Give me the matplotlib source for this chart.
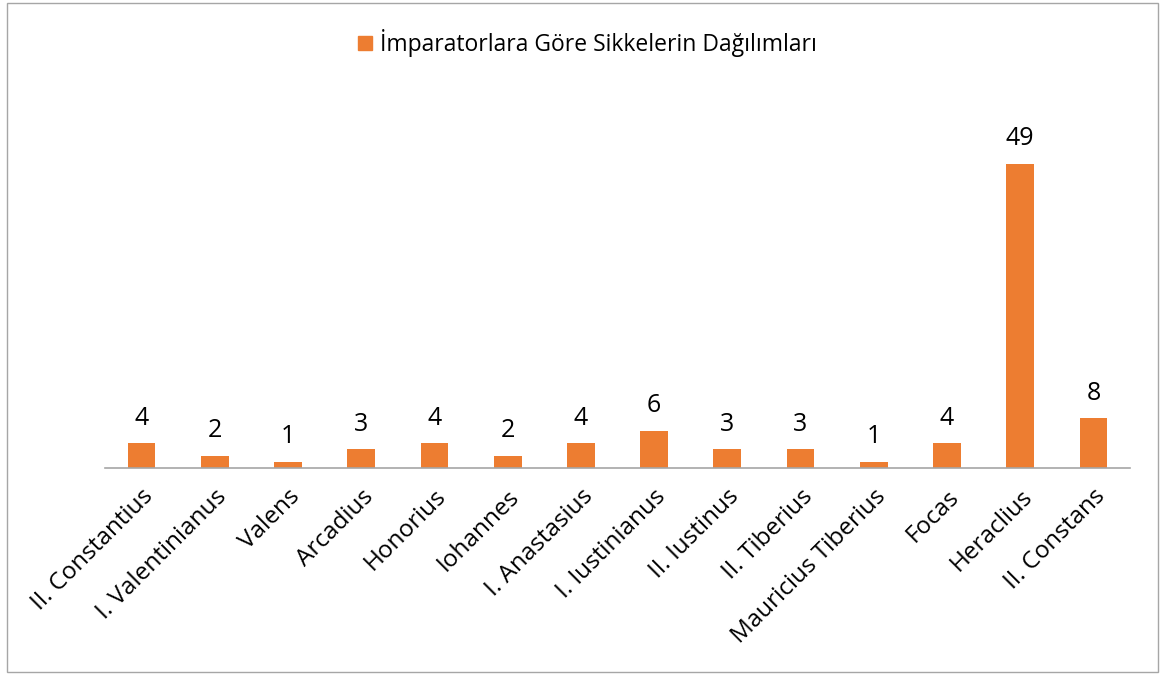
import matplotlib.pyplot as plt
from matplotlib.patches import Rectangle
from matplotlib.lines import Line2D

# data
emperors = ["II. Constantius", "I. Valentinianus", "Valens", "Arcadius", "Honorius",
            "Iohannes", "I. Anastasius", "I. Iustinianus", "II. Iustinus", "II. Tiberius",
            "Mauricius Tiberius", "Focas", "Heraclius", "II. Constans"]
coin_counts = [4, 2, 1, 3, 4, 2, 4, 6, 3, 3, 1, 4, 49, 8]
series_name = "İmparatorlara Göre Sikkelerin Dağılımları"

bar_color = "#ED7D31"
plt.rcParams['font.family'] = ['Open Sans', 'DejaVu Sans']

fig = plt.figure(figsize=(11.65, 6.75), dpi=100)
ax = fig.add_axes([0.0901, 0.3067, 0.8799, 0.5523])

x = range(len(emperors))
bars = ax.bar(x, coin_counts, width=0.38, color=bar_color)
ax.bar_label(bars, labels=[str(v) for v in coin_counts], padding=9, fontsize=18)

ax.set_xlim(-0.5, len(emperors) - 0.5)
ax.set_ylim(0, 60)
ax.set_yticks([])
ax.set_xticks(list(x))
ax.set_xticklabels(emperors, rotation=45, ha='right', rotation_mode='anchor', fontsize=17.5)
ax.tick_params(axis='x', length=0, pad=12)
for side in ['top', 'right', 'left']:
    ax.spines[side].set_visible(False)
ax.spines['bottom'].set_color('#A6A6A6')
ax.spines['bottom'].set_linewidth(1.2)

handle = Line2D([], [], marker='s', linestyle='none', color=bar_color, markersize=10.5)
fig.legend([handle], [series_name], loc='center', bbox_to_anchor=(0.502, 0.937),
           frameon=False, fontsize=16.5, handletextpad=0.15, handlelength=1.0)

# chart border
fig.patches.append(Rectangle((0.006, 0.004), 0.988, 0.992, transform=fig.transFigure,
                             fill=False, edgecolor='#A6A6A6', linewidth=1))

fig.savefig("out.png", dpi=100)
